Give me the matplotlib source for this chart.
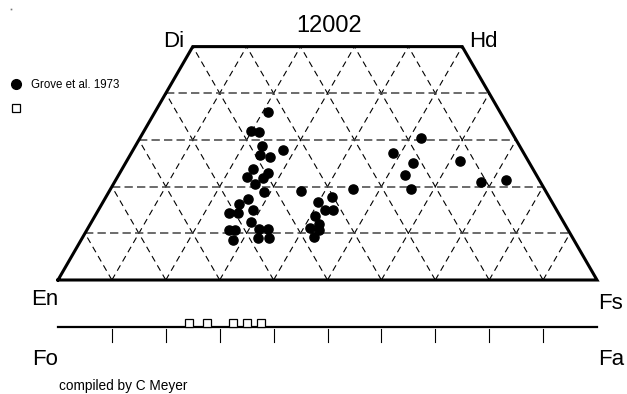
import numpy as np
import matplotlib
matplotlib.use('Agg')
import matplotlib.pyplot as plt

plt.rcParams['font.family'] = ['Liberation Sans', 'DejaVu Sans']
plt.rcParams['lines.scale_dashes'] = False

# pyroxene compositions (mol %), Grove et al. 1973
wo = [35.9, 32.0, 31.6, 28.6, 27.8, 26.7, 26.4, 23.7, 22.9, 22.1, 21.9, 20.6,
      18.9, 17.3, 16.2, 15.1, 14.3, 14.4, 12.4, 10.7, 10.7, 8.6, 10.9, 10.9,
      8.9, 8.9, 19.1, 19.6, 17.8, 16.8, 15.1, 15.0, 13.7, 12.1, 11.1, 10.7,
      9.3, 30.4, 27.3, 25.1, 25.5, 22.6, 19.5, 21.1, 21.4]
fs = [21.1, 19.8, 21.4, 23.6, 27.8, 24.2, 26.2, 24.3, 27.6, 24.1, 27.1, 26.2,
      28.8, 26.6, 25.5, 28.7, 26.3, 24.6, 29.6, 26.3, 27.5, 28.2, 31.9, 33.6,
      32.7, 34.7, 35.5, 45.0, 41.9, 39.9, 42.0, 43.6, 40.8, 42.3, 41.2, 43.1,
      42.9, 52.1, 48.5, 53.3, 61.9, 53.1, 55.8, 67.9, 72.5]

# olivine compositions (Fa %)
fa = [24.3, 27.7, 32.4, 35.0, 37.6]

grid_steps = [10, 20, 30, 40, 50, 60, 70, 80, 90]
wo_levels = [10, 20, 30, 40]

H = np.sqrt(3) / 2
PX = 5.39  # pixels per unit


def tern(w, f):
    w = np.asarray(w, dtype=float)
    f = np.asarray(f, dtype=float)
    return f + w / 2, w * H


fig = plt.figure(figsize=(6.27, 3.94), dpi=100)
ax = fig.add_axes([0, 0, 1, 1])
ax.set_xlim(-58 / PX, (627 - 58) / PX)
ax.set_ylim(-(394 - 280) / PX, 280 / PX)
ax.axis('off')

# dashed grid
for g in grid_steps:
    we = min(100 - g, 50)
    # constant Fs
    x, y = tern([0, we], [g, g])
    ax.plot(x, y, color='black', lw=0.8, dashes=(4.5, 3.2))
    # constant En
    x, y = tern([0, we], [100 - g, 100 - g - we])
    ax.plot(x, y, color='black', lw=0.8, dashes=(4.5, 3.2))
for w in wo_levels:
    x, y = tern([w, w], [0, 100 - w])
    ax.plot(x, y, color='#444444', lw=1.1, dashes=(6, 3))

# outline
x, y = tern([0, 0, 50, 50, 0], [0, 100, 50, 0, 0])
ax.plot(x, y, color='black', lw=2.2, solid_joinstyle='miter')

# data
x, y = tern(wo, fs)
ax.plot(x, y, 'o', color='black', ms=6.6, mec='black')

# olivine bar
oy = -(327 - 280) / PX
ax.plot([0, 100], [oy, oy], color='black', lw=1.6)
for g in grid_steps:
    ax.plot([g, g], [oy - 0.45, oy - 2.8], color='black', lw=0.8)
ax.plot(fa, [oy + 0.75] * len(fa), 's', ms=6, mfc='white', mec='black', mew=0.9)


def ptext(px, py, s, size):
    ax.text(px / 627, 1 - py / 394, s, transform=ax.transAxes, fontsize=size,
            ha='left', va='baseline')


ptext(296, 32, '12002', 17)
ptext(163, 47, 'Di', 16)
ptext(469, 47, 'Hd', 16)
ptext(31, 305, 'En', 16)
ptext(598, 309, 'Fs', 16)
ptext(32, 365, 'Fo', 16)
ptext(598, 365, 'Fa', 16)
ptext(59, 390, 'compiled by C Meyer', 9.8)

# legend
ax.plot([15.7 / 627], [1 - 84 / 394], 'o', color='black', ms=7, transform=ax.transAxes)
ptext(31, 88, 'Grove et al. 1973', 8.3)
ax.plot([15.7 / 627], [1 - 108 / 394], 's', ms=5.5, mfc='white', mec='black', mew=0.9,
        transform=ax.transAxes)
ax.plot([11 / 627], [1 - 9 / 394], 's', ms=1.2, color='#777777', mew=0, transform=ax.transAxes)

plt.savefig('out.png', dpi=100)
